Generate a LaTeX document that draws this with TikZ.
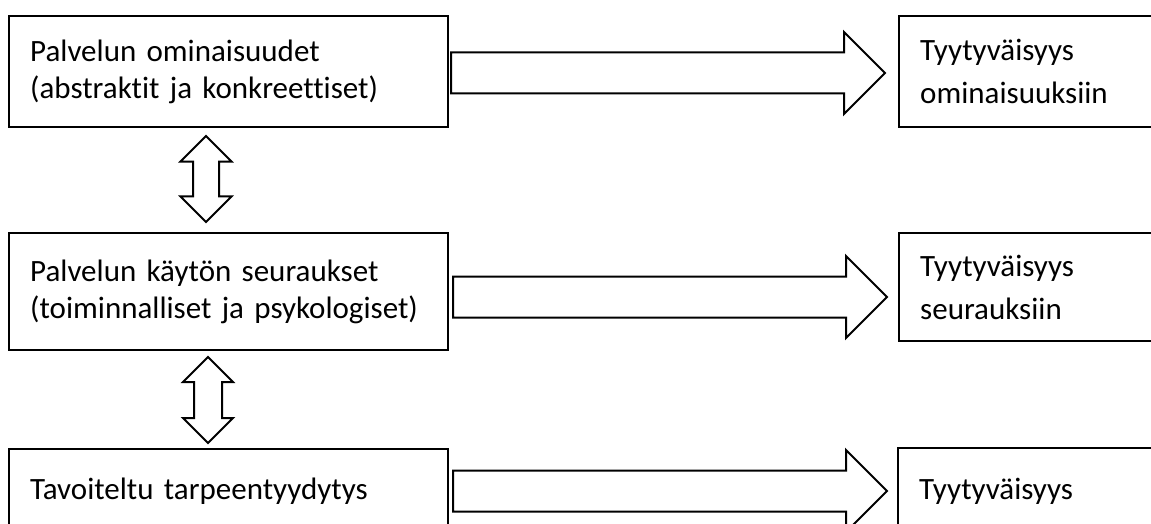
\documentclass[tikz,border=0pt]{standalone}
\usepackage{fontspec}
\setmainfont{Carlito}[Ligatures=NoCommon]
\usetikzlibrary{shapes.arrows,positioning}

\begin{document}
\begin{tikzpicture}[
    x=1pt, y=-1pt,
    box/.style={rectangle, draw, line width=2.4pt, anchor=north west, align=left, inner xsep=21pt, inner ysep=0pt},
    leftbox/.style={box, text width=397pt, font=\fontsize{31}{37}\selectfont},
    rightbox/.style={box, text width=260pt, font=\fontsize{31}{43}\selectfont},
    fatarrow/.style={single arrow, draw, fill=white, line width=2pt, inner xsep=0pt, inner ysep=19.5pt, anchor=tail,
        minimum height=434pt, minimum width=80pt, single arrow head extend=20.5pt},
    twoway/.style={double arrow, draw, fill=white, line width=2pt, inner sep=12pt, shape border rotate=90,
        minimum height=86pt, minimum width=49pt, double arrow head extend=12.5pt}
]
\clip (0,0) rectangle (1151,524);

% left column
\node[leftbox, minimum height=111pt] (ominaisuudet) at (8,15) {Palvelun ominaisuudet\\(abstraktit ja konkreettiset)};
\node[leftbox, minimum height=117pt] (seuraukset) at (8,232) {Palvelun käytön seuraukset\\(toiminnalliset ja psykologiset)};
\node[leftbox, minimum height=84pt] (tarpeet) at (8,448) {Tavoiteltu tarpeentyydytys};

% right column
\node[rightbox, minimum height=111pt] (tyyt1) at (898,15) {Tyytyväisyys\\ominaisuuksiin};
\node[rightbox, minimum height=108pt] (tyyt2) at (898,232) {Tyytyväisyys\\seurauksiin};
\node[rightbox, minimum height=86pt] (tyyt3) at (897,447) {Tyytyväisyys};

% block arrows
\node[fatarrow] (nuoli1) at (450,73) {};
\node[fatarrow] (nuoli2) at (452,297) {};
\node[fatarrow] (nuoli3) at (452,491) {};

% two-way arrows
\node[twoway] (vali1) at (206,179) {};
\node[twoway, inner sep=13pt, minimum width=48pt, double arrow head extend=11pt] (vali2) at (208,400) {};

\end{tikzpicture}
\end{document}
